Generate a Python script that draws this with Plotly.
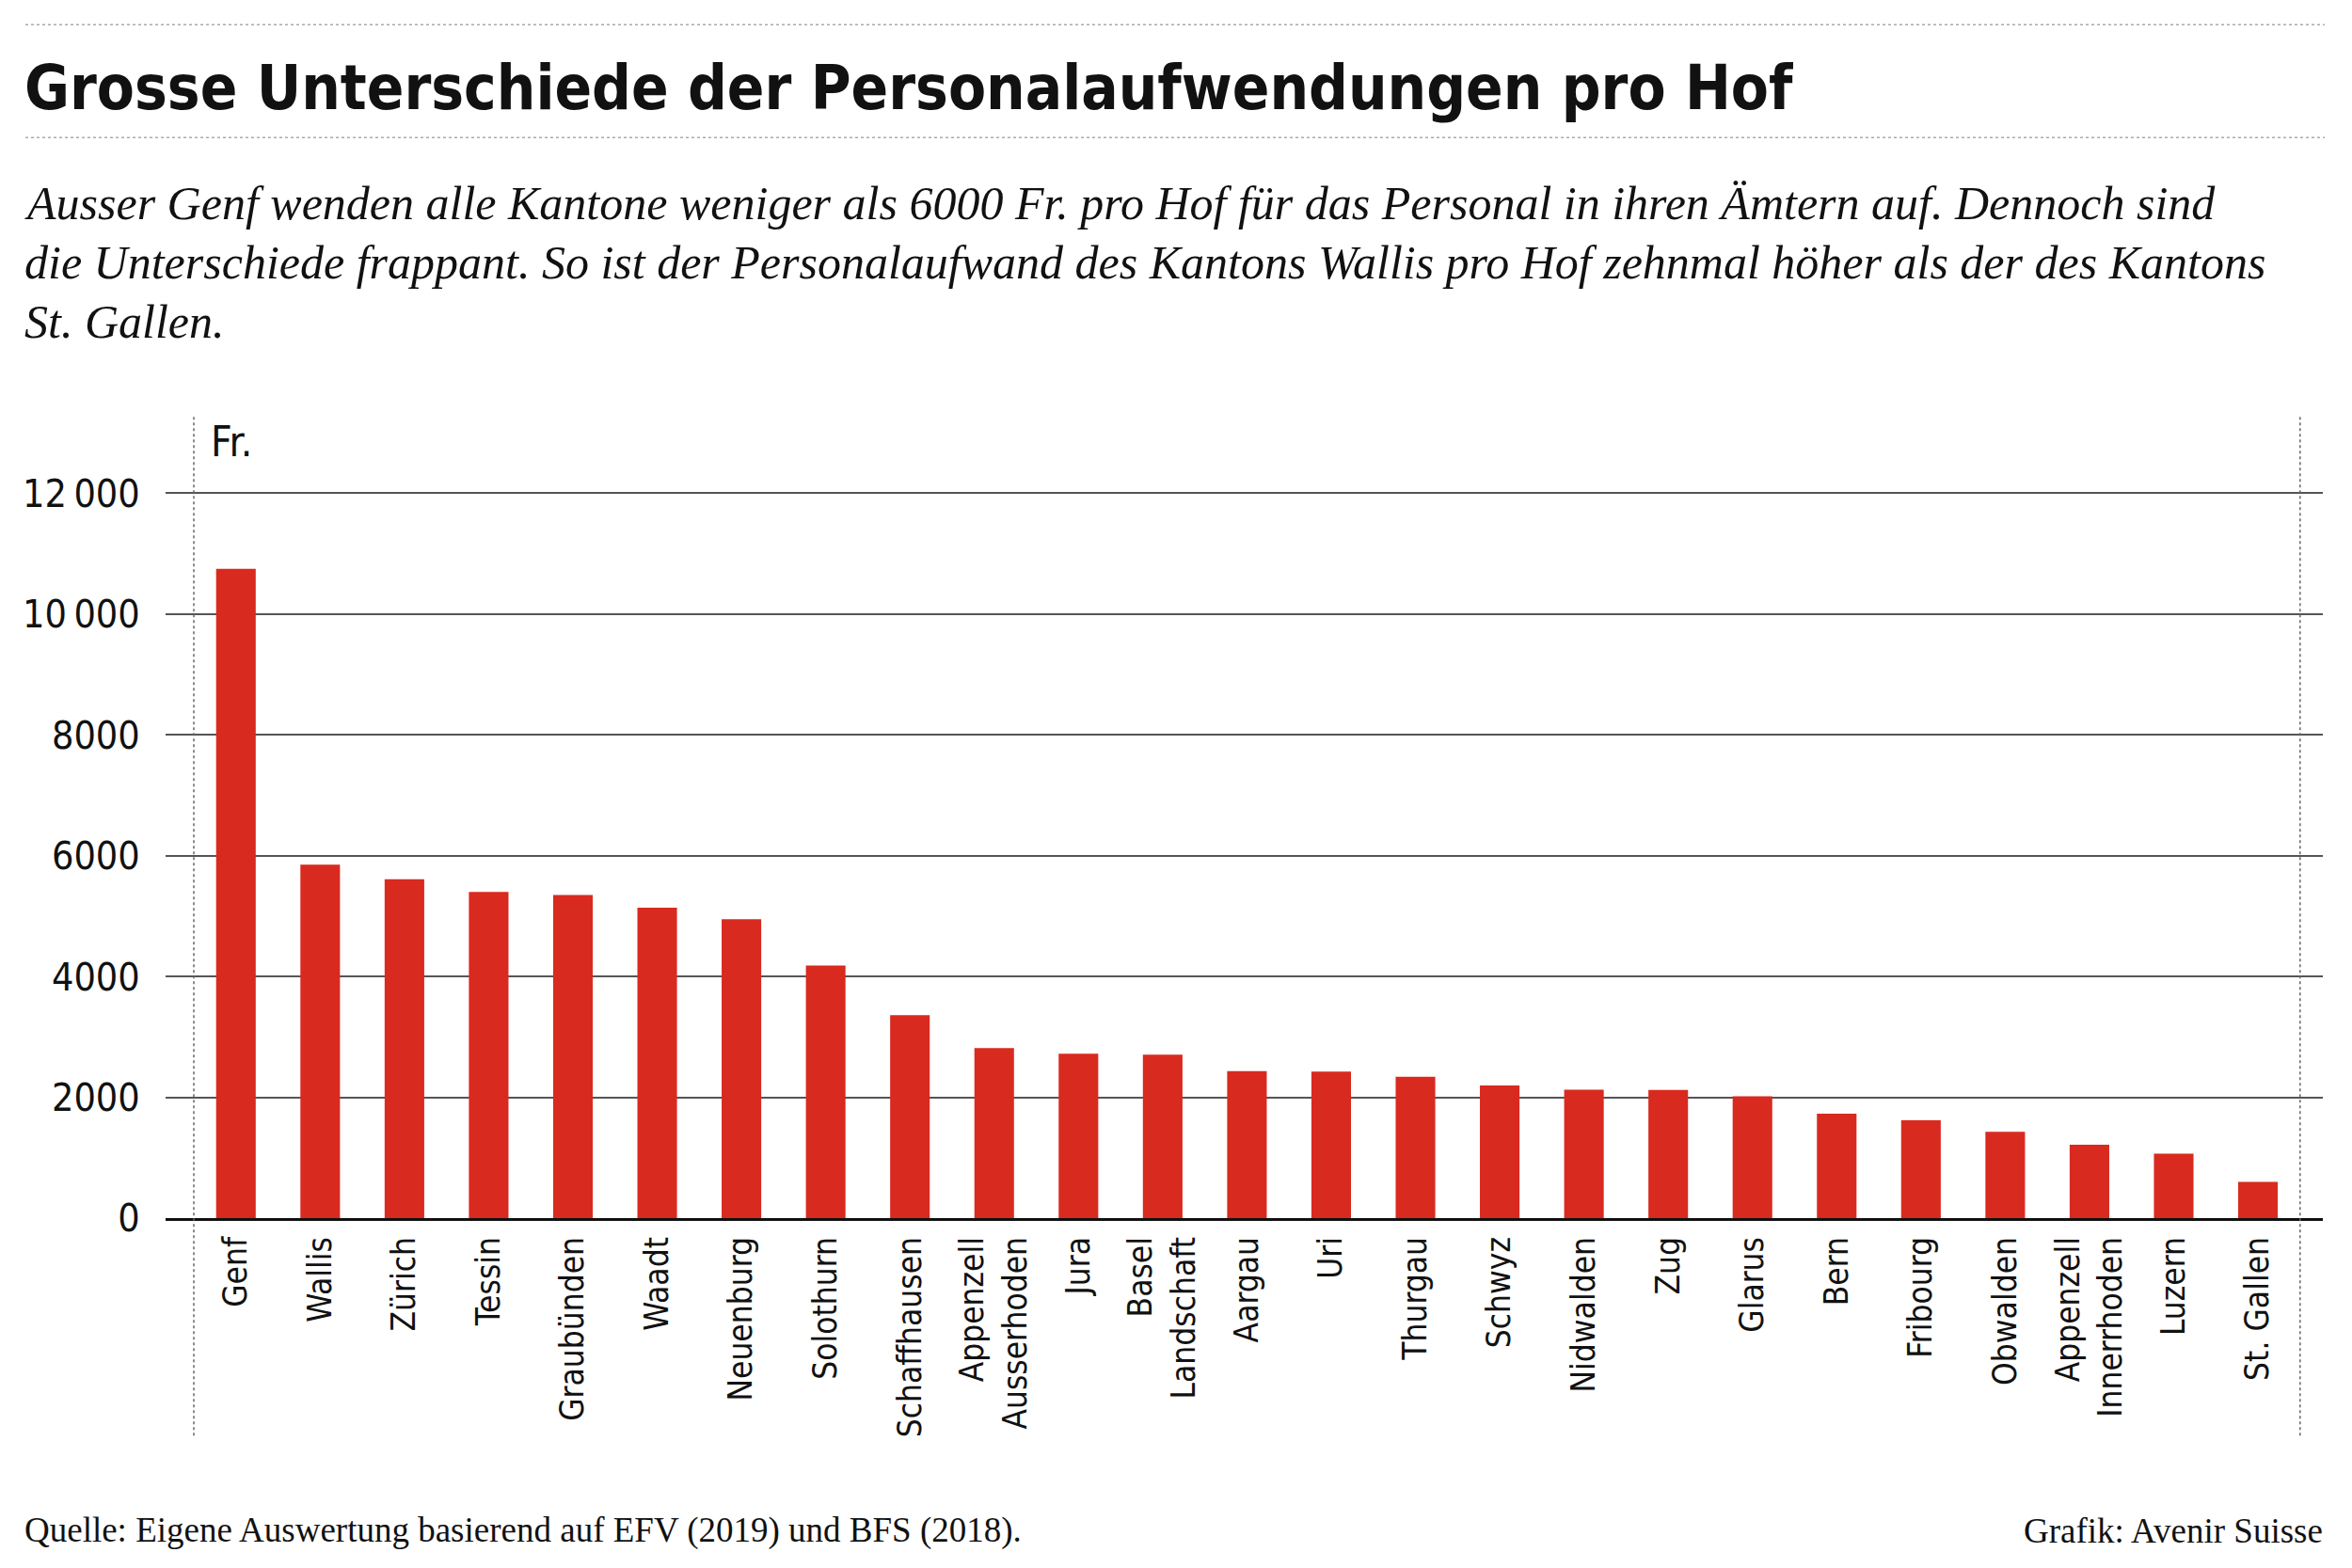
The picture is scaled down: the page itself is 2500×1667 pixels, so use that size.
import plotly.graph_objects as go

# Personalaufwand pro Hof, Fr.
kantone = ["Genf", "Wallis", "Zürich", "Tessin", "Graubünden", "Waadt",
           "Neuenburg", "Solothurn", "Schaffhausen", "Appenzell<br>Ausserhoden",
           "Jura", "Basel<br>Landschaft", "Aargau", "Uri", "Thurgau", "Schwyz",
           "Nidwalden", "Zug", "Glarus", "Bern", "Fribourg", "Obwalden",
           "Appenzell<br>Innerrhoden", "Luzern", "St. Gallen"]
aufwand = [10750, 5850, 5610, 5400, 5350, 5140, 4950, 4180, 3360, 2815,
           2720, 2705, 2435, 2425, 2340, 2195, 2125, 2120, 2015, 1730,
           1620, 1430, 1215, 1065, 600]

y_ticks = [0, 2000, 4000, 6000, 8000, 10000, 12000]
y_labels = ["0", "2000", "4000", "6000", "8000", "10\u2009000", "12\u2009000"]

W, H = 2500, 1667
OFF = 8  # page body margin
# plot area in page pixels
X0, X1, Y0, Y1 = 176, 2469, 441, 1295.5
L, R = X0 - OFF, W - (X1 - OFF)
T, B = Y0 - OFF, H - (Y1 - OFF)
PW, PH = X1 - X0, Y1 - Y0

COND = "Liberation Sans Narrow, DejaVu Sans Condensed, sans-serif"
SERIF = "Liberation Serif, Times New Roman, serif"


def px(x):
    return (x - X0) / PW


def py(y):
    return (Y1 - y) / PH


fig = go.Figure()
fig.add_bar(x=list(range(len(kantone))), y=aufwand,
            marker=dict(color="#d92a1f", line=dict(width=0)))

fig.update_layout(
    width=W, height=H,
    margin=dict(l=L, r=R, t=T, b=B, autoexpand=False),
    paper_bgcolor="white", plot_bgcolor="white",
    bargap=0.53, showlegend=False,
    font=dict(family=COND, color="#111"),
)

fig.update_xaxes(
    range=[-0.835, 24.77], automargin=False,
    tickmode="array", tickvals=list(range(len(kantone))), ticktext=kantone,
    tickangle=-90, tickfont=dict(size=35, family=COND, color="#111"),
    ticks="outside", ticklen=3, tickcolor="rgba(0,0,0,0)",
    showline=True, linecolor="#111", linewidth=3,
    showgrid=False, zeroline=False,
)
fig.update_yaxes(
    range=[0, 13300], automargin=False,
    tickmode="array", tickvals=y_ticks, ticktext=y_labels,
    tickfont=dict(size=41, family=COND, color="#111"),
    ticks="outside", ticklen=18, tickcolor="rgba(0,0,0,0)",
    showgrid=True, gridcolor="#555", gridwidth=1.5,
    zeroline=False, showline=False,
)

# dotted rules above and below the title
for yy in (26, 146):
    fig.add_shape(type="line", xref="paper", yref="paper",
                  x0=px(27), x1=px(2471), y0=py(yy), y1=py(yy),
                  line=dict(color="#aaa", width=1.5, dash="dot"))

# dotted frame left and right of the bars
for xx in (-0.5, 24.5):
    fig.add_shape(type="line", xref="x", yref="paper",
                  x0=xx, x1=xx, y0=py(1527), y1=1,
                  line=dict(color="#666", width=1.5, dash="dot"))

fig.add_annotation(text="Grosse Unterschiede der Personalaufwendungen pro Hof",
                   xref="paper", yref="paper", x=px(24), y=py(93),
                   xanchor="left", yanchor="middle", showarrow=False,
                   font=dict(family=COND, size=65, color="#111", weight="bold"))

sub = ["Ausser Genf wenden alle Kantone weniger als 6000 Fr. pro Hof für das Personal in ihren Ämtern auf. Dennoch sind",
       "die Unterschiede frappant. So ist der Personalaufwand des Kantons Wallis pro Hof zehnmal höher als der des Kantons",
       "St. Gallen."]
for i, line in enumerate(sub):
    fig.add_annotation(text="<i>%s</i>" % line,
                       xref="paper", yref="paper", x=px(24), y=py(216 + i * 63),
                       xanchor="left", yanchor="middle", showarrow=False,
                       font=dict(family=SERIF, size=50, color="#111"))

fig.add_annotation(text="Fr.", xref="paper", yref="paper", x=px(222), y=py(470),
                   xanchor="left", yanchor="middle", showarrow=False,
                   font=dict(family=COND, size=44, color="#111"))

fig.add_annotation(text="Quelle: Eigene Auswertung basierend auf EFV (2019) und BFS (2018).",
                   xref="paper", yref="paper", x=px(24), y=py(1628),
                   xanchor="left", yanchor="middle", showarrow=False,
                   font=dict(family=SERIF, size=37, color="#111"))
fig.add_annotation(text="Grafik: Avenir Suisse",
                   xref="paper", yref="paper", x=px(2471), y=py(1628),
                   xanchor="right", yanchor="middle", showarrow=False,
                   font=dict(family=SERIF, size=37, color="#111"))

fig.write_html("out.html")
